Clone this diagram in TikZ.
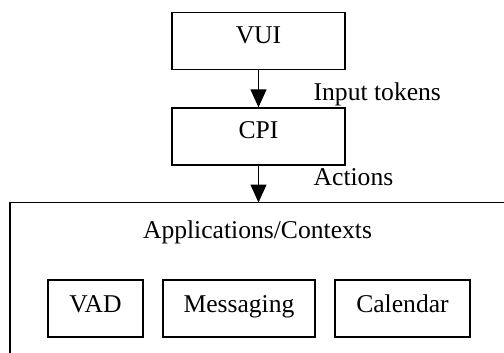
\documentclass[tikz,border=0pt]{standalone}
\usepackage{fontspec}
\setmainfont{Liberation Serif}
\usetikzlibrary{arrows.meta}
\begin{document}
\begin{tikzpicture}[x=1pt,y=-1pt,
  line width=1.3pt,
  txt/.style={font=\fontsize{25.6}{28}\selectfont},
  blockbox/.style={txt, draw, minimum width=173pt, minimum height=57pt, inner sep=0pt, text height=16pt, text depth=11pt},
  appbox/.style={txt, draw, minimum height=57pt, inner sep=0pt, text height=16pt, text depth=9pt},
  lbl/.style={txt, anchor=base west, inner sep=0pt},
  flow/.style={-{Triangle[length=18pt,width=16pt]}}]
  \useasboundingbox (0,0) rectangle (504,353);
  % top-level chain
  \node[blockbox] (vui) at (258.5,41) {VUI};
  \node[blockbox] (cpi) at (258.5,136.5) {CPI};
  % open container of the applications
  \coordinate (ctop) at (258.5,202.5);
  \draw (10,353) -- (10,202.5) -- (504,202.5);
  \node[txt, anchor=base, inner sep=0pt] (ctx) at (257.5,238) {Applications/Contexts};
  % applications
  \node[appbox, minimum width=95pt] (vad) at (95.5,308.5) {VAD\hspace{13pt}};
  \node[appbox, minimum width=152pt] (msg) at (239,308.5) {Messaging\hspace{10pt}};
  \node[appbox, minimum width=135pt] (cal) at (402.5,308.5) {Calendar\hspace{10pt}};
  % connectors
  \draw[flow] (vui) -- (cpi);
  \draw[flow] (cpi) -- (ctop);
  \node[lbl] (tok) at (313,100) {Input tokens};
  \node[lbl] (act) at (313,185) {Actions};
\end{tikzpicture}
\end{document}
